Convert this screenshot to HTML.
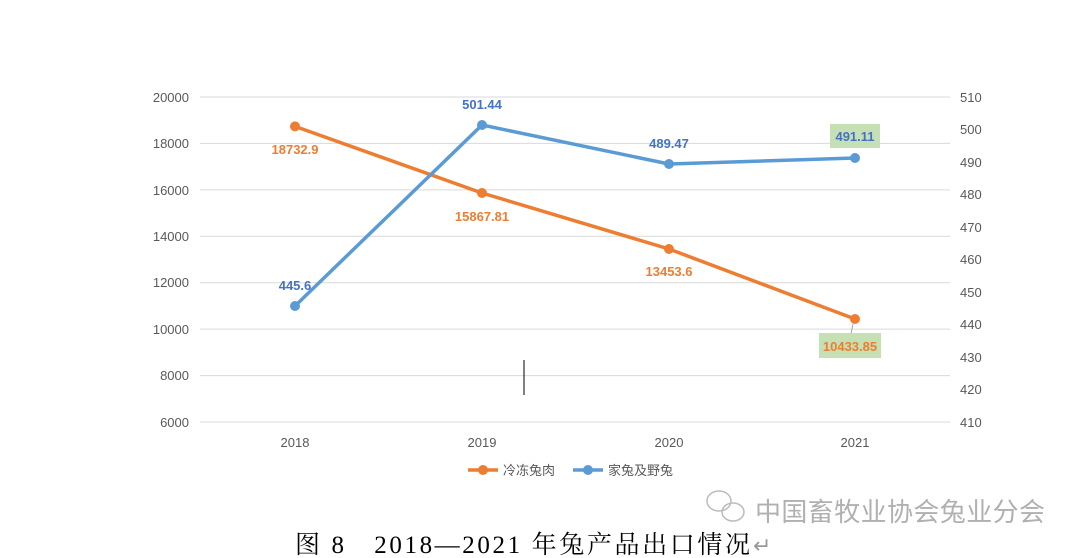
<!DOCTYPE html>
<html><head><meta charset="utf-8"><style>
html,body{margin:0;padding:0;background:#fff;width:1080px;height:558px;overflow:hidden}
</style></head><body>
<svg width="1080" height="558" viewBox="0 0 1080 558" xmlns="http://www.w3.org/2000/svg" font-family="Liberation Sans, Noto Sans CJK SC, sans-serif">
<g stroke="#d9d9d9" stroke-width="1">
<line x1="200" x2="950" y1="97" y2="97"/>
<line x1="200" x2="950" y1="143.4" y2="143.4"/>
<line x1="200" x2="950" y1="189.9" y2="189.9"/>
<line x1="200" x2="950" y1="236.3" y2="236.3"/>
<line x1="200" x2="950" y1="282.7" y2="282.7"/>
<line x1="200" x2="950" y1="329.1" y2="329.1"/>
<line x1="200" x2="950" y1="375.6" y2="375.6"/>
<line x1="200" x2="950" y1="422" y2="422"/>
</g>
<g font-size="13" fill="#595959" text-anchor="end">
<text x="189" y="102">20000</text><text x="189" y="148">18000</text><text x="189" y="195">16000</text><text x="189" y="241">14000</text><text x="189" y="287">12000</text><text x="189" y="334">10000</text><text x="189" y="380">8000</text><text x="189" y="427">6000</text>
</g>
<g font-size="13" fill="#595959">
<text x="960" y="102">510</text><text x="960" y="134">500</text><text x="960" y="167">490</text><text x="960" y="199">480</text><text x="960" y="232">470</text><text x="960" y="264">460</text><text x="960" y="297">450</text><text x="960" y="329">440</text><text x="960" y="362">430</text><text x="960" y="394">420</text><text x="960" y="427">410</text>
</g>
<g font-size="13" fill="#595959" text-anchor="middle">
<text x="295" y="447">2018</text><text x="482" y="447">2019</text><text x="669" y="447">2020</text><text x="855" y="447">2021</text>
</g>
<line x1="524" y1="360" x2="524" y2="395" stroke="#000" stroke-width="1"/>
<polyline points="295,126.4 482,193 669,249 855,319" fill="none" stroke="#ed7d31" stroke-width="3.5" stroke-linejoin="round"/>
<polyline points="295,306 482,125 669,164 855,158" fill="none" stroke="#5b9bd5" stroke-width="3.5" stroke-linejoin="round"/>
<g fill="#ed7d31"><circle cx="295" cy="126.4" r="5"/><circle cx="482" cy="193" r="5"/><circle cx="669" cy="249" r="5"/><circle cx="855" cy="319" r="5"/></g>
<g fill="#5b9bd5"><circle cx="295" cy="306" r="5"/><circle cx="482" cy="125" r="5"/><circle cx="669" cy="164" r="5"/><circle cx="855" cy="158" r="5"/></g>
<line x1="853" y1="324" x2="851" y2="334" stroke="#a5a5a5"/>
<rect x="830" y="124" width="50" height="24" fill="#c5e0b4"/>
<rect x="819" y="333" width="62" height="25" fill="#c5e0b4"/>
<g font-size="13" font-weight="bold" text-anchor="middle" fill="#ed7d31">
<text x="295" y="154">18732.9</text><text x="482" y="221">15867.81</text><text x="669" y="276">13453.6</text><text x="850" y="351">10433.85</text>
</g>
<g font-size="13" font-weight="bold" text-anchor="middle" fill="#4472c4">
<text x="295" y="290">445.6</text><text x="482" y="109">501.44</text><text x="669" y="148">489.47</text><text x="855" y="141">491.11</text>
</g>
<line x1="468" y1="470" x2="498" y2="470" stroke="#ed7d31" stroke-width="3.5"/><circle cx="483" cy="470" r="5" fill="#ed7d31"/>
<text x="503" y="475" font-size="13" fill="#595959">冷冻兔肉</text>
<line x1="573" y1="470" x2="603" y2="470" stroke="#5b9bd5" stroke-width="3.5"/><circle cx="588" cy="470" r="5" fill="#5b9bd5"/>
<text x="608" y="475" font-size="13" fill="#595959">家兔及野兔</text>
<g fill="none" stroke="#bbb" stroke-width="1.5">
<ellipse cx="719" cy="501" rx="12" ry="10"/><ellipse cx="733" cy="512" rx="11" ry="9"/>
</g>
<text x="755" y="521" font-size="26" fill="#b0b0b0" font-family="Noto Sans CJK SC, sans-serif" textLength="290">中国畜牧业协会兔业分会</text>
<text x="295" y="553" font-size="25" fill="#000" font-family="Liberation Serif, Noto Serif CJK SC, serif" textLength="455" lengthAdjust="spacing">图 8　2018—2021 年兔产品出口情况</text>
<text x="753" y="553" font-size="22" fill="#999">↵</text>
</svg>
</body></html>
